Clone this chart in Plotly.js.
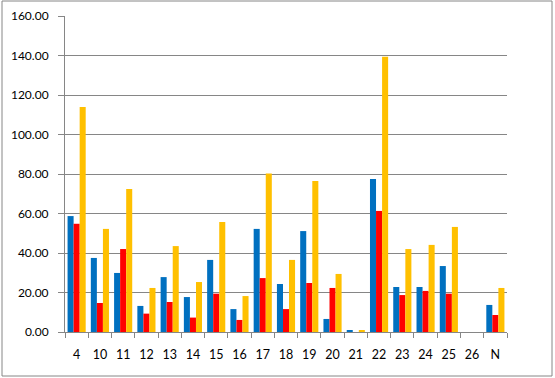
<!DOCTYPE html>
<html><head><meta charset="utf-8">
<script src="https://cdn.plot.ly/plotly-3.0.1.min.js"></script>
<style>html,body{margin:0;padding:0;background:#fff}#chart{width:555px;height:378px}</style>
</head><body><div id="chart"></div>
<script>
const categories = ["4","10","11","12","13","14","15","16","17","18","19","20","21","22","23","24","25","26","N"];
const seriesBlue   = [58.7,37.5,29.9,13.2,27.8,17.7,36.5,11.6,52.2,24.3,51.1,6.6,1.0,77.5,22.8,22.8,33.4,0,13.7];
const seriesRed    = [54.8,14.7,42.0,9.3,15.2,7.3,19.4,6.1,27.3,11.6,24.8,22.3,0,61.3,18.7,20.8,19.4,0,8.6];
const seriesYellow = [113.9,52.2,72.4,22.3,43.5,25.3,55.7,18.2,80.2,36.5,76.5,29.4,1.0,139.4,42.0,44.1,53.2,0,22.3];
const yTicks = [0,20,40,60,80,100,120,140,160];

const font = {family:"Lato, 'Open Sans', sans-serif", size:12, color:"#000"};
const xfont = {family:"Lato, 'Open Sans', sans-serif", size:12.5, color:"#000"};
const mk = (y,c,n)=>({type:"bar",x:categories,y:y,name:n,marker:{color:c},hoverinfo:"none"});
const data = [mk(seriesBlue,"#0070C0","A"),mk(seriesRed,"#FF0000","B"),mk(seriesYellow,"#FFC000","C")];
const layout = {
  width:555,height:378,
  margin:{l:65,r:48,t:16,b:46,pad:0},
  paper_bgcolor:"#fff",plot_bgcolor:"#fff",
  showlegend:false,barmode:"group",bargap:0.22,bargroupgap:0,
  font:font,
  xaxis:{type:"category",showgrid:false,zeroline:false,showline:true,linecolor:"#868686",linewidth:1,
    ticks:"outside",tickson:"boundaries",ticklen:5,tickcolor:"#868686",tickwidth:1,tickangle:0,
    ticklabelstandoff:11,tickfont:xfont},
  yaxis:{range:[0,160],tickvals:yTicks,tickformat:".2f",
    showgrid:true,gridcolor:"#868686",gridwidth:1,automargin:false,ticklabelstandoff:7,
    zeroline:false,showline:true,linecolor:"#868686",ticks:"outside",ticklen:6,tickcolor:"#868686",tickwidth:1,
    tickfont:font},
  shapes:[{type:"rect",xref:"paper",yref:"paper",x0:(2-65)/442,x1:(552-65)/442,y0:(332-376)/316,y1:(332-1)/316,
    line:{color:"#868686",width:1},fillcolor:"rgba(0,0,0,0)",layer:"below"}]
};
Plotly.newPlot("chart",data,layout,{staticPlot:true,displayModeBar:false});
</script></body></html>
